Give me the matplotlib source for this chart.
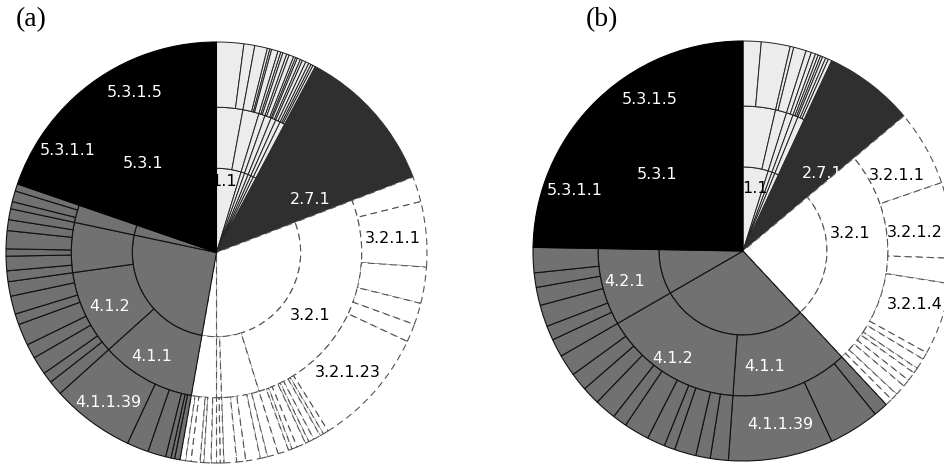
import numpy as np
import matplotlib
matplotlib.use('Agg')
import matplotlib.pyplot as plt

# ---- chart (a): leaf categories (level 4) and their share in degrees, clockwise from 12 o'clock
codes_a = ['1.1.1.1', '1.1.1.2', '1.1.2.1', '1.1.2.2', '1.1.2.3', '1.1.2.4',
           '1.2.1.1', '1.2.1.2', '1.2.1.3', '1.3.1.1', '1.3.1.2', '1.3.1.3',
           '1.4.1.1', '1.4.1.2', '1.4.1.3', '1.5.1.1', '1.5.1.2',
           '1.6.1.1', '1.6.1.2', '1.6.1.3',
           '2.7.1.1', '2.7.1.2',
           '3.2.1.3', '3.2.1.1', '3.2.1.5', '3.2.1.7', '3.2.1.9', '3.2.1.23',
           '3.2.1.31', '3.2.1.32', '3.2.1.33', '3.2.1.34', '3.2.1.35', '3.2.1.36',
           '3.2.1.37', '3.2.1.38', '3.2.1.40',
           '3.2.2.1', '3.2.2.2', '3.2.2.3', '3.2.2.4', '3.2.2.5',
           '3.2.3.1', '3.2.3.2',
           '3.4.1.1', '3.4.1.2', '3.4.1.3', '3.4.1.4', '3.4.1.5', '3.4.1.6',
           '4.1.1.2', '4.1.1.3', '4.1.1.5', '4.1.1.8', '4.1.1.12', '4.1.1.39',
           '4.1.2.1', '4.1.2.2', '4.1.2.3', '4.1.2.4', '4.1.2.5', '4.1.2.6', '4.1.2.7', '4.1.2.8',
           '4.1.3.1', '4.1.3.2', '4.1.3.3', '4.1.3.4', '4.1.3.5', '4.1.3.6',
           '4.2.1.1', '4.2.1.2', '4.2.1.3',
           '5.3.1.1', '5.3.1.5']
sizes_a = [7.5, 3.0, 3.5, 0.7, 0.5, 1.8,
           0.8, 0.6, 1.1, 0.7, 1.3, 0.6,
           0.5, 0.9, 0.6, 1.0, 0.9,
           0.7, 0.6, 0.7,
           26, 15,
           7, 18, 10, 6, 5, 33,
           1.5, 1.0, 2.0, 1.5, 1.0, 2.5,
           1.5, 1.0, 3,
           3, 2, 4, 2.5, 3.5,
           1, 1,
           1.5, 2, 1, 2.5, 1.5, 1.5,
           1.5, 1.0, 1.5, 5, 6, 23,
           4, 3, 5, 4, 6, 3, 5, 4,
           3, 4, 2, 5, 3, 3,
           2, 3, 2,
           29, 42]
labels_a = ['5.3.1.5', '5.3.1.1', '5.3.1', '2.7.1', '1.1', '3.2.1.1',
            '3.2.1', '3.2.1.23', '4.1.2', '4.1.1', '4.1.1.39']
label_angle_a = [333, 304.6, 320.6, 60.7, 6.1, 85.6, 123.8, 132.5, 242.9, 211.7, 215.8]
label_radius_a = [0.855, 0.857, 0.55, 0.51, 0.337, 0.841, 0.534, 0.847, 0.568, 0.583, 0.881]

# ---- chart (b)
codes_b = ['1.1.1.1', '1.1.1.2', '1.1.2.1', '1.1.2.2',
           '1.2.1.1', '1.2.1.2', '1.3.1.1', '1.3.1.2', '1.3.1.3',
           '1.4.1.1', '1.4.1.2', '1.4.1.3',
           '2.7.1.1', '2.7.1.2',
           '3.2.1.1', '3.2.1.2', '3.2.1.3', '3.2.1.4',
           '3.2.1.6', '3.2.1.8', '3.2.1.9', '3.2.1.11', '3.2.1.14', '3.2.1.17',
           '3.2.1.20', '3.2.1.23',
           '4.1.1.2', '4.1.1.5', '4.1.1.39',
           '4.1.2.1', '4.1.2.2', '4.1.2.3', '4.1.2.4', '4.1.2.5', '4.1.2.6',
           '4.1.2.7', '4.1.2.8', '4.1.2.9', '4.1.2.10', '4.1.2.11',
           '4.2.1.1', '4.2.1.2', '4.2.1.3', '4.2.1.4', '4.2.1.5', '4.2.1.6',
           '5.3.1.1', '5.3.1.5']
sizes_b = [5, 8, 1, 3.5,
           1.5, 1.2, 0.8, 0.7, 0.6,
           0.9, 0.8, 1.0,
           14, 11,
           21, 21, 7, 20,
           2, 3, 1.5, 2.5, 2, 3,
           2, 2,
           4, 14, 29,
           5, 4, 6, 3, 5, 7,
           4, 6, 5, 5, 6,
           5, 4, 6, 5, 4, 7,
           39, 50]
labels_b = ['5.3.1.5', '5.3.1', '5.3.1.1', '1.1', '2.7.1', '3.2.1.1', '3.2.1',
            '3.2.1.2', '3.2.1.4', '4.2.1', '4.1.2', '4.1.1', '4.1.1.39']
label_angle_b = [328.4, 311.5, 289.7, 10.8, 45.7, 64, 80.5, 84, 107.4, 255.7, 213.2, 169.2, 168]
label_radius_b = [0.845, 0.547, 0.85, 0.305, 0.525, 0.816, 0.517, 0.823, 0.858, 0.58, 0.609, 0.558, 0.847]

fill = {'1': '#ececec', '2': '#2f2f2f', '3': '#ffffff', '4': '#717171', '5': '#000000'}
edge = {'1': '#222222', '2': '#2f2f2f', '3': '#555555', '4': '#111111', '5': '#000000'}
text_col = {'1': 'black', '2': 'white', '3': 'black', '4': 'white', '5': 'white'}

# ring radii: level 2 (inner), level 3 (middle), level 4 (outer)
rings = [(2, 0.40, 0.0), (3, 0.69, 0.40), (4, 1.0, 0.69)]


def group(codes, sizes, depth):
    names, vals = [], []
    for c, s in zip(codes, sizes):
        key = '.'.join(c.split('.')[:depth])
        if names and names[-1] == key:
            vals[-1] += s
        else:
            names.append(key)
            vals.append(s)
    return names, vals


def sunburst(ax, codes, sizes, labels, angles, radii):
    for depth, r_out, r_in in rings:
        names, vals = group(codes, sizes, depth)
        wedges, _ = ax.pie(vals, radius=r_out, startangle=90, counterclock=False,
                           colors=[fill[n[0]] for n in names],
                           wedgeprops=dict(width=r_out - r_in, linewidth=0.8))
        for w, n in zip(wedges, names):
            w.set_edgecolor(edge[n[0]])
            if n[0] == '3':
                w.set_linestyle((0, (6, 4)))
            elif n[0] == '1':
                w.set_linewidth(0.7)
    for lab, ang, rad in zip(labels, angles, radii):
        t = np.deg2rad(90 - ang)
        ax.text(rad * np.cos(t), rad * np.sin(t), lab, ha='center', va='center',
                fontsize=11.5, color=text_col[lab[0]])
    ax.set_aspect('equal')
    ax.set_xlim(-1, 1)
    ax.set_ylim(-1, 1)
    ax.axis('off')


W, H = 944, 465
fig = plt.figure(figsize=(W / 100, H / 100), dpi=100)
fig.patch.set_facecolor('white')

# chart (a): centre (216.5, 252.5) px, radius 210.5 px
ax1 = fig.add_axes([6 / W, 2 / H, 421 / W, 421 / H])
sunburst(ax1, codes_a, sizes_a, labels_a, label_angle_a, label_radius_a)

# chart (b): centre (743, 251) px, radius 210 px (runs off the right edge)
ax2 = fig.add_axes([533 / W, 4 / H, 420 / W, 420 / H])
sunburst(ax2, codes_b, sizes_b, labels_b, label_angle_b, label_radius_b)

fig.text(31 / W, 1 - 20 / H, '(a)', ha='center', va='center',
         fontsize=20, family='Liberation Serif')
fig.text(602 / W, 1 - 20 / H, '(b)', ha='center', va='center',
         fontsize=20, family='Liberation Serif')

fig.savefig('out.png', dpi=100)
